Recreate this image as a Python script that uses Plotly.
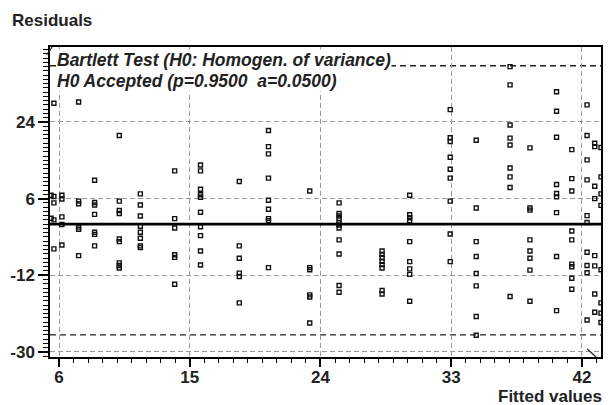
import plotly.graph_objects as go

# Residuals grouped by fitted value
fitted_levels = [5.45, 5.65, 6.2, 7.35, 8.45, 10.15, 11.6, 13.96, 15.74, 18.41,
                 20.42, 23.26, 25.28, 28.24, 30.14, 32.93, 34.72, 37.05, 38.42,
                 40.25, 41.3, 42.35, 42.88, 43.31]
residual_groups = [
    [6.8, 1.4],
    [28.4, 6.5, 5.0, 1.0, -5.8],
    [6.8, 5.9, 1.7, -0.1, -4.9],
    [28.7, 5.4, 4.8, -0.7, -1.2, -7.4],
    [10.3, 5.1, 4.5, 2.3, -1.9, -2.4, -5.1],
    [20.8, 5.4, 3.2, 2.5, -3.5, -4.1, -9.1, -9.7, -10.3],
    [7.1, 4.5, 1.9, -0.5, -1.9, -3.3, -5.1, -5.5],
    [12.5, 1.3, -0.9, -7.2, -7.8, -14.1],
    [13.9, 12.5, 8.2, 6.9, 6.3, 2.8, -0.6, -2.7, -6.3, -9.6],
    [10.0, -5.1, -8.0, -11.5, -12.3, -18.5],
    [22.0, 18.2, 16.5, 10.8, 5.6, 3.5, 1.3, 0.8, -10.2],
    [7.8, -10.2, -10.7, -16.6, -17.1, -23.2],
    [5.0, 2.5, 1.9, 1.3, 0.4, -0.2, -0.9, -3.7, -7.0, -14.4, -16.0],
    [-6.3, -7.1, -7.9, -8.7, -9.5, -10.3, -15.6, -16.4],
    [6.8, 2.2, 1.5, 0.8, -4.1, -8.8, -10.5, -11.8, -18.1],
    [26.9, 20.3, 19.4, 15.7, 12.9, 10.8, 5.4, -2.3, -8.8],
    [19.7, 3.8, -4.1, -7.6, -11.6, -14.5, -21.7, -26.1],
    [37.0, 32.7, 23.3, 20.2, 18.6, 13.2, 11.1, 8.6, -17.0],
    [17.9, 3.8, 3.3, -3.7, -6.3, -8.0, -10.8, -18.1],
    [31.1, 26.5, 20.4, 9.3, 7.2, 6.4, 2.7, -7.6, -20.3],
    [17.5, 10.7, 7.8, -1.6, -3.7, -9.4, -10.0, -12.7, -15.3],
    [28.0, 20.8, 15.1, 10.4, 2.0, 0.4, -6.6, -9.7, -11.4, -22.5],
    [19.0, 18.2, 8.9, 6.0, -7.4, -9.8, -16.4, -20.7],
    [18.0, 11.1, 7.1, 4.4, -10.7, -18.5, -20.9, -23.1],
]

x_tick_vals = [6, 15, 24, 33, 42]
y_tick_vals = [-30, -12, 6, 24]
upper_limit = 37.2
lower_limit = -26.0
x_range = [5.38, 43.31]
y_range = [-31.2, 41.6]

xs, ys = [], []
for fx, grp in zip(fitted_levels, residual_groups):
    for r in grp:
        xs.append(fx)
        ys.append(r)

fig = go.Figure()
fig.add_trace(go.Scatter(
    x=xs, y=ys, mode="markers",
    marker=dict(symbol="square-open", size=4, color="#111",
                line=dict(width=1.4, color="#111")),
    cliponaxis=True, showlegend=False, hoverinfo="skip",
))

# zero reference line and limits
fig.add_hline(y=0, line=dict(color="black", width=2.6), layer="above")
for lim in (upper_limit, lower_limit):
    fig.add_hline(y=lim, line=dict(color="#222", width=1.4, dash="6px,4px"), layer="below")

# small arrowheads at the axis ends
fig.add_shape(type="line", xref="paper", yref="paper", x0=0.975, y0=0.026, x1=0.991, y1=0.0,
              line=dict(color="#222", width=1.2))
fig.add_shape(type="line", xref="paper", yref="paper", x0=-0.006, y0=0.975, x1=0.004, y1=1.0,
              line=dict(color="#222", width=1.2))

font_family = "Liberation Sans, Arial, sans-serif"

axis_common = dict(
    showline=True, linecolor="black", linewidth=1.5, mirror=True,
    showgrid=True, gridcolor="#9a9a9a", gridwidth=1, griddash="5px,3px",
    zeroline=False, ticks="outside", tickcolor="black", tickwidth=1.5,
    tickfont=dict(family=font_family, size=17, color="#222", weight="bold"),
)

fig.update_xaxes(
    range=x_range, tickmode="array", tickvals=x_tick_vals,
    ticktext=[str(v) for v in x_tick_vals], ticklen=8,
    ticklabelstandoff=-4,
    minor=dict(dtick=1, tick0=6, ticks="outside", ticklen=4, tickcolor="black",
               tickwidth=1.2, showgrid=False),
    **axis_common,
)
fig.update_yaxes(
    range=y_range, tickmode="array", tickvals=y_tick_vals,
    ticktext=[str(v) for v in y_tick_vals], ticklen=10,
    minor=dict(dtick=1, tick0=6, ticks="outside", ticklen=5, tickcolor="black",
               tickwidth=1.2, showgrid=False),
    ticklabelstandoff=0,
    **axis_common,
)

label_font = dict(family=font_family, size=17, color="#222", weight="bold")
note_font = dict(family=font_family, size=17.5, color="#222", weight="bold", style="italic")

fig.add_annotation(text="Residuals", xref="paper", yref="paper", x=-0.073, y=1.087,
                   xanchor="left", yanchor="middle", showarrow=False, font=label_font)
fig.add_annotation(text="Fitted values", xref="paper", yref="paper", x=1.006, y=-0.128,
                   xanchor="right", yanchor="middle", showarrow=False, font=label_font)
fig.add_annotation(text="Bartlett Test (H0: Homogen. of variance)", xref="paper", yref="paper",
                   x=0.011, y=0.958, xanchor="left", yanchor="middle", showarrow=False,
                   font=note_font, bgcolor="white", borderpad=0)
fig.add_annotation(text="H0 Accepted (p=0.9500  a=0.0500)", xref="paper", yref="paper",
                   x=0.011, y=0.890, xanchor="left", yanchor="middle", showarrow=False,
                   font=note_font, bgcolor="white", borderpad=0)

fig.update_layout(
    width=608, height=405,
    margin=dict(l=50, r=5, t=47, b=48),
    plot_bgcolor="white", paper_bgcolor="white",
)

fig.write_html("out.html")
